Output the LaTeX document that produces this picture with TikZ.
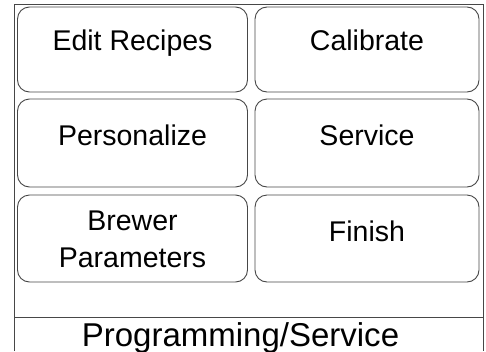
\documentclass[tikz,border=0pt]{standalone}
\usepackage{fontspec}
\setmainfont{Liberation Sans}
\begin{document}
\begin{tikzpicture}[x=1pt,y=-1pt,
  frame/.style={draw=black!72, line width=1pt},
  box/.style={draw=black!72, line width=0.9pt, rounded corners=12pt, minimum width=230pt, inner sep=0pt},
  lbl/.style={anchor=base, inner sep=0pt, font=\fontsize{28.5}{37}\selectfont},
  title/.style={anchor=base, inner sep=0pt, font=\fontsize{33}{40}\selectfont}]
\useasboundingbox (0,0) rectangle (486,351);
\fill[white] (0,0) rectangle (486,351);
\coordinate (fl) at (14,351);
\coordinate (fr) at (483,351);
\coordinate (sl) at (14,317);
\coordinate (sr) at (483,317);
\draw[frame] (fl) |- (483,4) -- (fr);
\draw[frame] (sl) -- (sr);
% boxes
\node[box, minimum height=85pt] (b1) at (132.5,49.5) {};
\node[box, minimum height=85pt, minimum width=224pt] (b2) at (367,49.5) {};
\node[box, minimum height=88pt] (b3) at (132.5,143) {};
\node[box, minimum height=88pt, minimum width=224pt] (b4) at (367,143) {};
\node[box, minimum height=87pt] (b5) at (132.5,238.5) {};
\node[box, minimum height=87pt, minimum width=224pt] (b6) at (367,238.5) {};
% labels
\node[lbl] (t1) at (132.5,50) {Edit Recipes};
\node[lbl] (t2) at (367,50) {Calibrate};
\node[lbl] (t3) at (132.5,145) {Personalize};
\node[lbl] (t4) at (367,145) {Service};
\node[lbl] (t5a) at (132.5,230) {Brewer};
\node[lbl] (t5b) at (132.5,267) {Parameters};
\node[lbl] (t6) at (367,241) {Finish};
\node[title] (tt) at (240.5,346) {Programming/Service};
\end{tikzpicture}
\end{document}
